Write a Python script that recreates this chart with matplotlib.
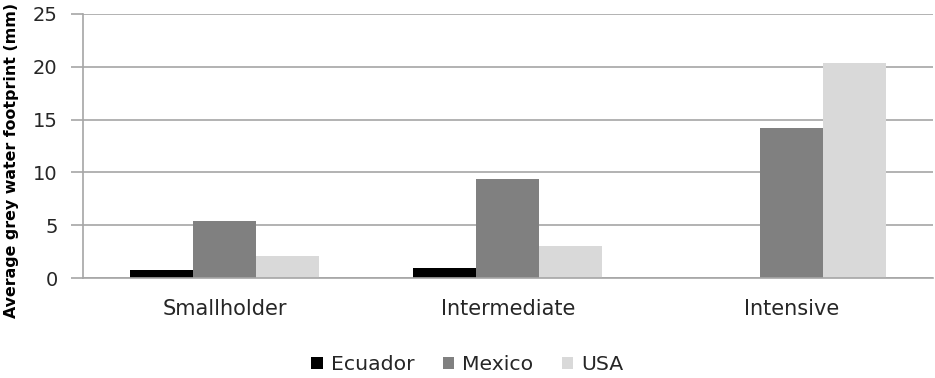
import numpy as np
import matplotlib.pyplot as plt
from matplotlib.patches import Patch

# data
categories = ["Smallholder", "Intermediate", "Intensive"]
series_names = ["Ecuador", "Mexico", "USA"]
ecuador = [0.82, 0.95, 0.0]
mexico = [5.4, 9.35, 14.2]
usa = [2.1, 3.03, 20.3]
y_ticks = [0, 5, 10, 15, 20, 25]

colours = ["#000000", "#808080", "#d9d9d9"]
grid_col = "#a6a6a6"
text_col = "#262626"

plt.rcParams.update({
    "font.family": "DejaVu Sans",
    "font.size": 14,
})

fig = plt.figure(figsize=(9.35, 3.78), dpi=100)
ax = fig.add_axes([82.7 / 935, 1 - 278.3 / 378, (933 - 82.7) / 935, (278.3 - 13.7) / 378])

x = np.arange(len(categories))
w = 1 / 4.5
for i, (vals, col) in enumerate(zip([ecuador, mexico, usa], colours)):
    ax.bar(x + (i - 1) * w, vals, width=w, color=col, edgecolor="none", zorder=3)

ax.set_xlim(-0.5, len(categories) - 0.5)
ax.set_ylim(0, 25)
ax.set_yticks(y_ticks)
ax.set_xticks(x)
ax.set_xticklabels(categories, fontsize=15, color=text_col)
ax.tick_params(axis="y", length=9, color=grid_col, width=1.2, labelsize=14, labelcolor=text_col, pad=9)
ax.tick_params(axis="x", length=0, pad=15)

ax.yaxis.grid(True, color=grid_col, linewidth=1.2, zorder=0)
for s in ["top", "right"]:
    ax.spines[s].set_visible(False)
ax.spines["left"].set_color(grid_col)
ax.spines["left"].set_linewidth(1.2)
ax.spines["bottom"].set_color(grid_col)
ax.spines["bottom"].set_linewidth(1.2)
ax.spines["bottom"].set_zorder(4)

ax.set_ylabel("Average grey water footprint (mm)", fontsize=11.4, fontweight="bold", color="#000000")
ax.yaxis.set_label_coords(-0.0745, 0.445)

handles = [Patch(facecolor=c, edgecolor="none", label=n) for c, n in zip(colours, series_names)]
fig.legend(handles=handles, loc="center", bbox_to_anchor=(0.5, 1 - 365 / 378), ncol=3,
           frameon=False, fontsize=14.7, handlelength=0.55, handleheight=0.55,
           handletextpad=0.4, columnspacing=1.4, labelcolor=text_col)

fig.savefig("out.png", dpi=100)
